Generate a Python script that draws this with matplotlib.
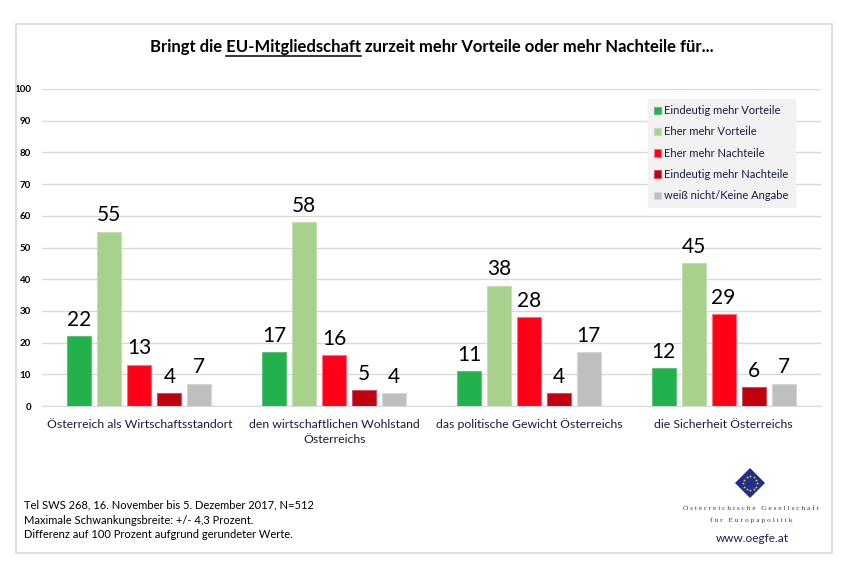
import numpy as np
import matplotlib
matplotlib.use("Agg")
import matplotlib.pyplot as plt
from matplotlib.patches import Rectangle, Polygon

plt.rcParams["font.family"] = ["Lato", "DejaVu Sans"]

categories = ["Österreich als Wirtschaftsstandort",
              "den wirtschaftlichen Wohlstand\nÖsterreichs",
              "das politische Gewicht Österreichs",
              "die Sicherheit Österreichs"]
series_names = ["Eindeutig mehr Vorteile", "Eher mehr Vorteile", "Eher mehr Nachteile",
                "Eindeutig mehr Nachteile", "weiß nicht/Keine Angabe"]
eindeutig_vorteile = [22, 17, 11, 12]
eher_vorteile = [55, 58, 38, 45]
eher_nachteile = [13, 16, 28, 29]
eindeutig_nachteile = [4, 5, 4, 6]
weiss_nicht = [7, 4, 17, 7]
yticks = [0, 10, 20, 30, 40, 50, 60, 70, 80, 90, 100]

series = [eindeutig_vorteile, eher_vorteile, eher_nachteile, eindeutig_nachteile, weiss_nicht]
colors = ["#22b14c", "#a9d18e", "#ff0018", "#c00010", "#bfbfbf"]
edges = ["#5cc47a", "#c3dfb0", "#ff7080", "#d05060", "#d6d6d6"]

W, H = 867, 572
fig = plt.figure(figsize=(W / 100, H / 100), dpi=100)

# outer frame
fig.patches.append(Rectangle((16 / W, 1 - 553 / H), (832 - 16) / W, (553 - 24) / H,
                             transform=fig.transFigure, fill=False, edgecolor="#d9d9d9", lw=1.2))

ax = fig.add_axes([42 / W, 1 - 406 / H, (821 - 42) / W, (406 - 89) / H])
x = np.arange(len(categories))
slot = 0.154
for i, (vals, c, ec, name) in enumerate(zip(series, colors, edges, series_names)):
    pos = x + (i - 2) * slot
    ax.bar(pos, vals, width=slot * 0.8, color=c, edgecolor=ec, linewidth=0.8, label=name, zorder=3)
    for px, v in zip(pos, vals):
        ax.text(px, v + 2, str(v), ha="center", va="bottom", fontsize=15, color="black")

ax.set_ylim(0, 100)
ax.set_xlim(-0.5, len(categories) - 0.5)
ax.set_yticks(yticks)
ax.set_yticklabels([str(t) for t in yticks], fontsize=7, fontweight="bold")
ax.yaxis.grid(True, color="#d9d9d9", lw=1, zorder=0)
ax.tick_params(axis="y", length=0, pad=8)
ax.tick_params(axis="x", length=0, pad=9)
ax.set_xticks(x)
ax.set_xticklabels(categories, fontsize=8.8, color="#1a1a40", va="top", linespacing=1.45)
for s in ["top", "left", "right"]:
    ax.spines[s].set_visible(False)
ax.spines["bottom"].set_color("#d9d9d9")

leg = ax.legend(loc="upper right", bbox_to_anchor=(0.9666, 0.968), fontsize=8, frameon=True,
                handlelength=0.65, handleheight=0.65, handletextpad=0.3, labelspacing=0.92,
                borderpad=0.55, borderaxespad=0, fancybox=False, edgecolor="#f2f2f2",
                facecolor="#f2f2f2", framealpha=1)
for t in leg.get_texts():
    t.set_color("#1a1a40")

# title with underlined part
title = "Bringt die EU-Mitgliedschaft zurzeit mehr Vorteile oder mehr Nachteile für..."
tx, ty = 432 / W, 1 - 47 / H
tt = fig.text(tx, ty, title, ha="center", va="center", fontsize=12, fontweight="bold")
fig.canvas.draw()
r = fig.canvas.get_renderer()
full = tt.get_window_extent(r)
t1 = fig.text(0, 0, "Bringt die EU-Mitgliedschaft", fontsize=12, fontweight="bold")
t2 = fig.text(0, 0, "EU-Mitgliedschaft", fontsize=12, fontweight="bold")
w1 = t1.get_window_extent(r).width
w2 = t2.get_window_extent(r).width
t1.remove()
t2.remove()
x_end = full.x0 + w1
x_start = x_end - w2
uy = full.y0 - 1
fig.add_artist(plt.Line2D([x_start / W, x_end / W], [uy / H, uy / H], color="black", lw=1.1))

# footnote
notes = ["Tel SWS 268, 16. November bis 5. Dezember 2017, N=512",
         "Maximale Schwankungsbreite: +/- 4,3 Prozent.",
         "Differenz auf 100 Prozent aufgrund gerundeter Werte."]
for k, n in enumerate(notes):
    fig.text(24 / W, 1 - (505 + 15 * k) / H, n, fontsize=8, va="center", ha="left")

# logo
cx, cy, r_ = 750, 483, 15
diamond = Polygon([((cx) / W, 1 - (cy - r_) / H), ((cx + r_) / W, 1 - cy / H),
                   (cx / W, 1 - (cy + r_) / H), ((cx - r_) / W, 1 - cy / H)],
                  closed=True, transform=fig.transFigure, facecolor="#1f2f8f", edgecolor="none")
fig.patches.append(diamond)
ang = np.linspace(0, 2 * np.pi, 12, endpoint=False)
fig.add_artist(plt.Line2D((cx + 7 * np.cos(ang)) / W, 1 - (cy + 7 * np.sin(ang)) / H,
                          ls="none", marker="*", ms=2.2, color="#ffd700", mec="none"))
fig.text(751 / W, 1 - 508 / H, "Ö s t e r r e i c h i s c h e   G e s e l l s c h a f t",
         ha="center", va="center", fontsize=5.4, family=["Liberation Serif"], color="#404040")
fig.text(751 / W, 1 - 520 / H, "f ü r   E u r o p a p o l i t i k",
         ha="center", va="center", fontsize=5.4, family=["Liberation Serif"], color="#404040")
fig.text(752 / W, 1 - 538 / H, "www.oegfe.at", ha="center", va="center", fontsize=8.5,
         color="#1a1a60")

fig.savefig("out.png", dpi=100)
